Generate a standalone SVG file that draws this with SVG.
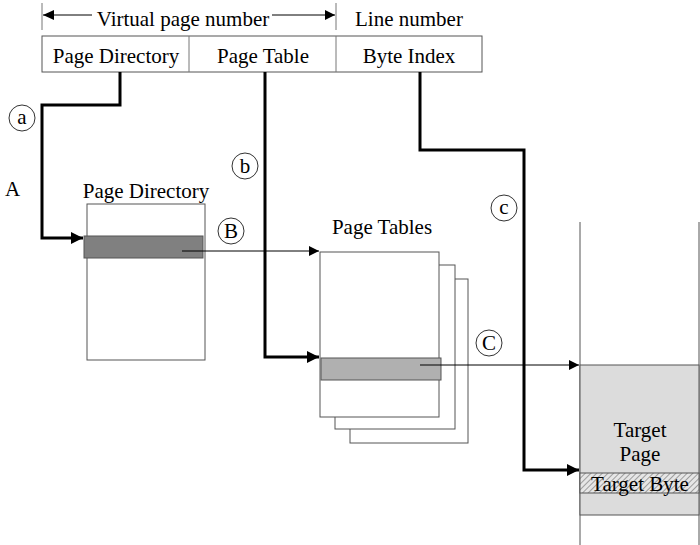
<svg xmlns="http://www.w3.org/2000/svg" width="700" height="545" viewBox="0 0 700 545">
<style>
text{font-family:"Liberation Serif","Times New Roman",serif;font-size:21px;fill:#000}
.box{fill:#fff;stroke:#555;stroke-width:1}
.thin{fill:none;stroke:#000;stroke-width:1}
.thick{fill:none;stroke:#000;stroke-width:3}
.circ{fill:#fff;stroke:#333;stroke-width:1}
</style>
<defs>
<marker id="ah" viewBox="0 0 10 10" refX="10" refY="5" markerWidth="14" markerHeight="12" markerUnits="userSpaceOnUse" orient="auto"><path d="M0,0L10,5L0,10z" fill="#000"/></marker>
<marker id="ahs" viewBox="0 0 10 10" refX="10" refY="5" markerWidth="12" markerHeight="10" markerUnits="userSpaceOnUse" orient="auto"><path d="M0,0L10,5L0,10z" fill="#000"/></marker>
<pattern id="hatch" width="4" height="4" patternUnits="userSpaceOnUse" patternTransform="rotate(45)"><rect width="4" height="4" fill="#e6e6e6"/><line x1="0" y1="0" x2="0" y2="4" stroke="#555" stroke-width="1"/></pattern>
</defs>
<g id="header">
<line x1="42" y1="3" x2="42" y2="30" stroke="#777" stroke-width="1"/>
<line x1="336" y1="3" x2="336" y2="30" stroke="#777" stroke-width="1"/>
<line x1="43" y1="15" x2="92" y2="15" class="thin"/>
<path d="M54,10L43,15L54,20z" fill="#000"/>
<line x1="272" y1="15" x2="335" y2="15" class="thin" marker-end="url(#ahs)"/>
<text x="183" y="26" text-anchor="middle">Virtual page number</text>
<text x="409" y="26" text-anchor="middle">Line number</text>
<rect x="42" y="36" width="440" height="36" class="box" stroke="#777"/>
<line x1="189" y1="36" x2="189" y2="72" stroke="#777"/>
<line x1="336" y1="36" x2="336" y2="72" stroke="#777"/>
<text x="116" y="63" text-anchor="middle">Page Directory</text>
<text x="263" y="63" text-anchor="middle">Page Table</text>
<text x="409" y="63" text-anchor="middle">Byte Index</text>
</g>
<g id="pagedir">
<text x="146" y="198" text-anchor="middle">Page Directory</text>
<rect x="87" y="204" width="118" height="156" class="box"/>
<rect x="84" y="236" width="119" height="22" fill="#808080" stroke="#555"/>
</g>
<g id="pagetables">
<text x="382" y="234" text-anchor="middle">Page Tables</text>
<rect x="350" y="279" width="118" height="164" class="box"/>
<rect x="335" y="265" width="120" height="164" class="box"/>
<rect x="320" y="252" width="119" height="165" class="box"/>
<rect x="321" y="358" width="120" height="22" fill="#b0b0b0" stroke="#555"/>
</g>
<g id="targetpage">
<line x1="580" y1="222" x2="580" y2="545" stroke="#555"/>
<line x1="699" y1="222" x2="699" y2="545" stroke="#555"/>
<rect x="580" y="365" width="119" height="150" fill="#dcdcdc" stroke="#555"/>
<rect x="580" y="473" width="119" height="20" fill="url(#hatch)" stroke="#555"/>
<text x="640" y="437" text-anchor="middle">Target</text>
<text x="640" y="461" text-anchor="middle">Page</text>
<text x="640" y="491" text-anchor="middle">Target Byte</text>
</g>
<g id="connectors">
<path d="M120,72V105H42V238H83" class="thick" marker-end="url(#ah)"/>
<path d="M265,72V357H319" class="thick" marker-end="url(#ah)"/>
<path d="M420,72V150H524V470H579" class="thick" marker-end="url(#ah)"/>
<path d="M182,251H319" class="thin" marker-end="url(#ahs)"/>
<path d="M420,365H579" class="thin" marker-end="url(#ahs)"/>
</g>
<g id="labels">
<text x="5" y="196">A</text>
<circle cx="22" cy="118" r="13" class="circ"/><text x="22" y="124" text-anchor="middle">a</text>
<circle cx="245" cy="166" r="13" class="circ"/><text x="245" y="173" text-anchor="middle">b</text>
<circle cx="504" cy="208" r="13" class="circ"/><text x="504" y="214" text-anchor="middle">c</text>
<circle cx="231" cy="231" r="13" class="circ"/><text x="231" y="238" text-anchor="middle">B</text>
<circle cx="489" cy="343" r="13" class="circ"/><text x="489" y="350" text-anchor="middle">C</text>
</g>
</svg>
